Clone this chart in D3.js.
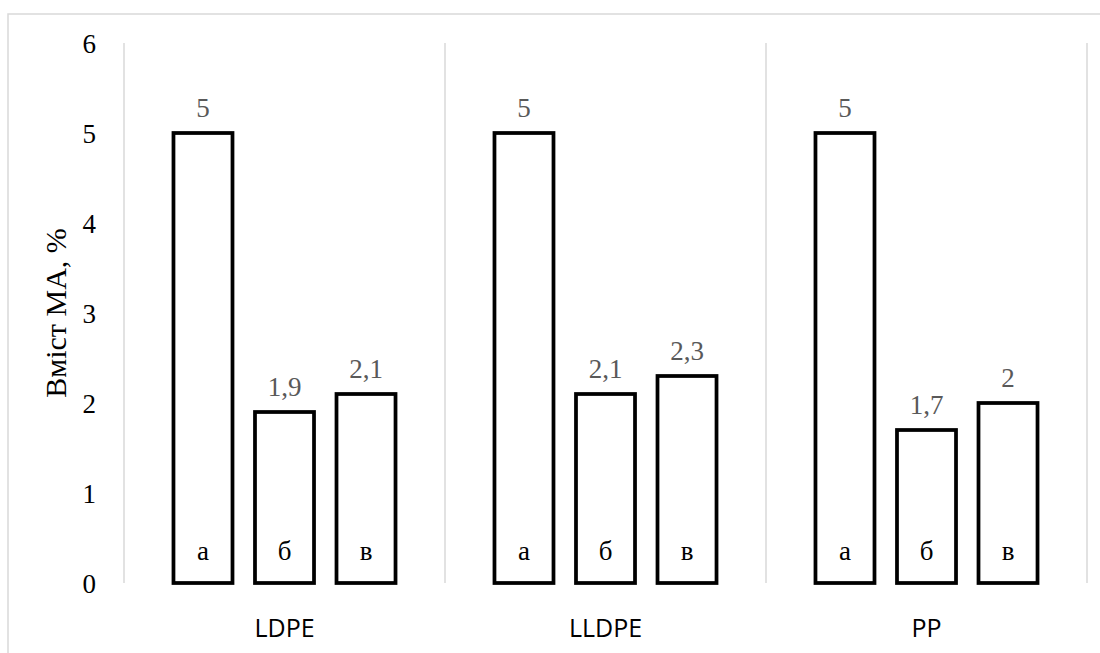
<!DOCTYPE html>
<html>
<head>
  <meta charset="utf-8">
  <script src="https://d3js.org/d3.v7.min.js"></script>
  <style>
    body { margin: 0; background: #fff; }
    .serif { font-family: "Liberation Serif", "Tinos", "Times New Roman", Times, "DejaVu Serif", serif; }
  </style>
</head>
<body>
  <div id="chart"></div>
  <script>
    // data
    var groups = ["LDPE", "LLDPE", "PP"];
    var subgroups = ["а", "б", "в"];
    var valA = [5, 5, 5];
    var valB = [1.9, 2.1, 1.7];
    var valC = [2.1, 2.3, 2];
    var yTicks = [0, 1, 2, 3, 4, 5, 6];

    var series = [valA, valB, valC];
    var data = [];
    groups.forEach(function (g, i) {
      subgroups.forEach(function (s, j) {
        data.push({ group: g, sub: s, value: series[j][i] });
      });
    });

    var W = 1100, H = 653;
    var svg = d3.select("#chart").append("svg")
      .attr("width", W).attr("height", H);

    // outer chart border (runs off the page right and bottom)
    svg.append("rect")
      .attr("x", 8).attr("y", 14)
      .attr("width", 1200).attr("height", 800)
      .attr("fill", "none").attr("stroke", "#d9d9d9").attr("stroke-width", 1.5);

    var x0 = d3.scaleBand().domain(groups).range([124, 1087]).padding(0);
    var x1 = d3.scaleBand().domain(subgroups).range([0, x0.bandwidth()])
      .paddingInner(0.276).paddingOuter(0.607);
    var y = d3.scaleLinear().domain([0, 6]).range([583, 43]);

    // vertical separators
    var seps = groups.map(function (g) { return x0(g); }).concat([x0.range()[1]]);
    svg.selectAll("line.sep").data(seps).enter().append("line")
      .attr("x1", function (d) { return d; }).attr("x2", function (d) { return d; })
      .attr("y1", y(6)).attr("y2", y(0))
      .attr("stroke", "#d9d9d9").attr("stroke-width", 1.5);

    // y axis labels
    svg.selectAll("text.ytick").data(yTicks).enter().append("text")
      .attr("class", "serif")
      .attr("x", 96).attr("y", function (d) { return y(d) + 10; })
      .attr("text-anchor", "end")
      .attr("font-size", 27).attr("fill", "#000")
      .text(function (d) { return d; });

    svg.append("text")
      .attr("class", "serif")
      .attr("transform", "translate(66," + y(3) + ") rotate(-90)")
      .attr("text-anchor", "middle")
      .attr("font-size", 30).attr("fill", "#000")
      .text("Вміст МА, %");

    // bars
    var bars = svg.selectAll("g.bar").data(data).enter().append("g");
    bars.append("rect")
      .attr("x", function (d) { return x0(d.group) + x1(d.sub); })
      .attr("y", function (d) { return y(d.value); })
      .attr("width", x1.bandwidth())
      .attr("height", function (d) { return y(0) - y(d.value); })
      .attr("fill", "#fff").attr("stroke", "#000").attr("stroke-width", 3.75);

    // value labels
    bars.append("text")
      .attr("class", "serif")
      .attr("x", function (d) { return x0(d.group) + x1(d.sub) + x1.bandwidth() / 2; })
      .attr("y", function (d) { return y(d.value) - 16; })
      .attr("text-anchor", "middle")
      .attr("font-size", 27).attr("fill", "#595959")
      .text(function (d) { return String(d.value).replace(".", ","); });

    // letters inside bars
    bars.append("text")
      .attr("class", "serif")
      .attr("x", function (d) { return x0(d.group) + x1(d.sub) + x1.bandwidth() / 2; })
      .attr("y", y(0) - 23)
      .attr("text-anchor", "middle")
      .attr("font-size", 27).attr("fill", "#000")
      .text(function (d) { return d.sub; });

    // category labels
    svg.selectAll("text.cat").data(groups).enter().append("text")
      .attr("x", function (d) { return x0(d) + x0.bandwidth() / 2; })
      .attr("y", 637)
      .attr("text-anchor", "middle")
      .attr("font-family", "'Open Sans', sans-serif").attr("font-size", 25).attr("fill", "#000")
      .text(function (d) { return d; });
  </script>
</body>
</html>
